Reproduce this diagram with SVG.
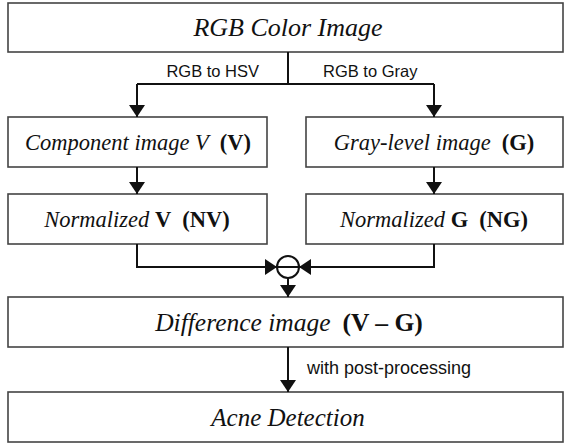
<svg xmlns="http://www.w3.org/2000/svg" width="564" height="446" viewBox="0 0 564 446">
<style>
.box{fill:#fff;stroke:#444;stroke-width:1.6}
.ln{fill:none;stroke:#111;stroke-width:2}
.t{font-family:"Liberation Serif","Times New Roman",serif;font-style:italic;fill:#111;text-anchor:middle}
.b{font-style:normal;font-weight:bold}
.lab{font-family:"Liberation Sans",Arial,sans-serif;fill:#111}
</style>
<defs>
<marker id="arr" viewBox="0 0 12 16" refX="12" refY="8" markerWidth="12" markerHeight="16" markerUnits="userSpaceOnUse" orient="auto">
<path d="M0,0 L12,8 L0,16 Z" fill="#111"/>
</marker>
</defs>
<rect width="564" height="446" fill="#fff"/>
<g id="n-rgb"><rect class="box" x="8" y="3" width="555" height="49"/><text class="t" x="288" y="36" font-size="26">RGB Color Image</text></g>
<g id="n-v"><rect class="box" x="8" y="117" width="259" height="50"/><text class="t" x="138" y="150" font-size="22.5">Component image V<tspan class="b" dx="11">(V)</tspan></text></g>
<g id="n-g"><rect class="box" x="306" y="117" width="257" height="50"/><text class="t" x="434" y="150" font-size="22.5">Gray-level image<tspan class="b" dx="11">(G)</tspan></text></g>
<g id="n-nv"><rect class="box" x="8" y="194" width="259" height="50"/><text class="t" x="137" y="227" font-size="22.5">Normalized <tspan class="b">V</tspan><tspan class="b" dx="11">(NV)</tspan></text></g>
<g id="n-ng"><rect class="box" x="306" y="194" width="257" height="50"/><text class="t" x="434" y="227" font-size="22.5">Normalized <tspan class="b">G</tspan><tspan class="b" dx="11">(NG)</tspan></text></g>
<g id="n-diff"><rect class="box" x="8" y="297" width="555" height="50"/><text class="t" x="289" y="331" font-size="25.5">Difference image<tspan class="b" dx="12">(V – G)</tspan></text></g>
<g id="n-acne"><rect class="box" x="8" y="392" width="555" height="50"/><text class="t" x="288" y="426" font-size="25">Acne Detection</text></g>
<g id="n-sub"><circle cx="288" cy="267" r="11" fill="#fff" stroke="#111" stroke-width="2"/><line class="ln" x1="277" y1="267" x2="299" y2="267"/></g>
<g id="connectors">
<path class="ln" d="M288,52 V84 M137,84 H434"/>
<path class="ln" d="M137,84 V117" marker-end="url(#arr)"/>
<path class="ln" d="M434,84 V117" marker-end="url(#arr)"/>
<path class="ln" d="M137,167 V194" marker-end="url(#arr)"/>
<path class="ln" d="M434,167 V194" marker-end="url(#arr)"/>
<path class="ln" d="M137,244 V267 H277" marker-end="url(#arr)"/>
<path class="ln" d="M434,244 V267 H299" marker-end="url(#arr)"/>
<path class="ln" d="M288,278 V297" marker-end="url(#arr)"/>
<path class="ln" d="M288,347 V392" marker-end="url(#arr)"/>
<text class="lab" x="259" y="77" text-anchor="end" font-size="16.5">RGB to HSV</text>
<text class="lab" x="323" y="77" font-size="16.5">RGB to Gray</text>
<text class="lab" x="307" y="374" font-size="18">with post-processing</text>
</g>
</svg>
